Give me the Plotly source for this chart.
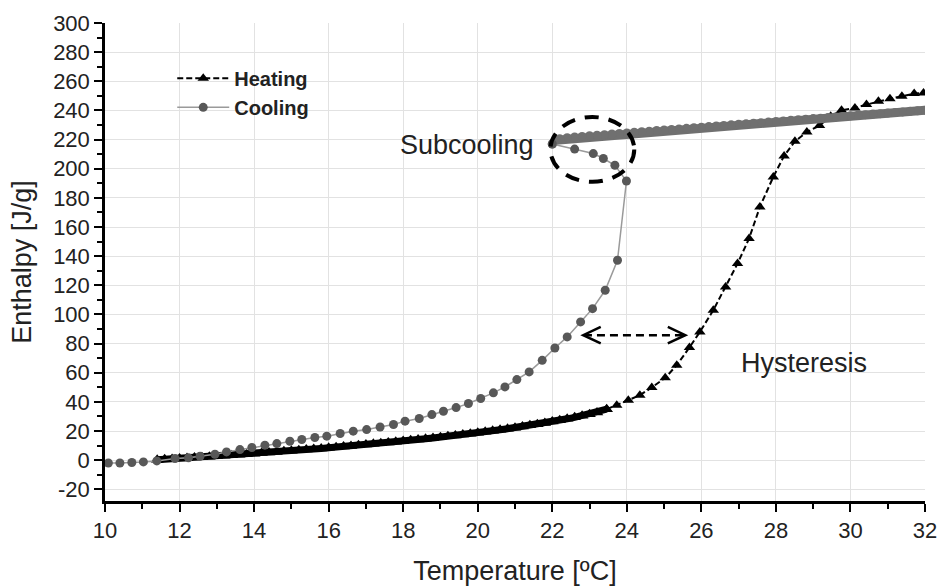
import plotly.graph_objects as go

# ---------------- data ----------------
# Heating: dense low-temperature part (points overlap into a band)
heat_dense_T = [11.4, 11.6, 11.8, 12.0, 12.2, 12.4, 12.6, 12.8, 13.0, 13.2, 13.4, 13.6, 13.8,
                14.0, 14.2, 14.4, 14.6, 14.8, 15.0, 15.2, 15.4, 15.6, 15.8, 16.0, 16.2, 16.4,
                16.6, 16.8, 17.0, 17.2, 17.4, 17.6, 17.8, 18.0, 18.2, 18.4, 18.6, 18.8, 19.0,
                19.2, 19.4, 19.6, 19.8, 20.0, 20.2, 20.4, 20.6, 20.8, 21.0, 21.2, 21.4, 21.6,
                21.8, 22.0, 22.2, 22.4, 22.6, 22.8, 23.0, 23.2, 23.46]
heat_dense_H = [0.3, 0.6, 0.9, 1.2, 1.5, 1.8, 2.1, 2.4, 2.7, 3.0, 3.4, 3.7, 4.1,
                4.5, 4.9, 5.3, 5.7, 6.1, 6.5, 6.9, 7.3, 7.7, 8.1, 8.5, 8.9, 9.4,
                9.8, 10.3, 10.8, 11.2, 11.7, 12.2, 12.7, 13.2, 13.7, 14.2, 14.7, 15.3, 15.8,
                16.4, 17.0, 17.6, 18.2, 18.8, 19.5, 20.2, 20.9, 21.6, 22.3, 23.1, 23.9, 24.7,
                25.6, 26.5, 27.4, 28.4, 29.4, 30.5, 31.6, 32.8, 35.0]
# Heating: melting and liquid part (individual triangles)
heat_T = [23.46, 23.73, 24.04, 24.35, 24.67, 25.03, 25.34, 25.68, 25.96, 26.32, 26.65, 26.97,
          27.28, 27.57, 27.93, 28.22, 28.51, 28.83, 29.17, 29.47, 29.76, 30.12, 30.43,
          30.75, 31.06, 31.38, 31.71, 31.96]
heat_H = [35.0, 37.7, 41.2, 44.6, 49.9, 56.5, 65.2, 77.3, 88.0, 102.9, 118.9, 134.9,
          152.1, 173.8, 194.4, 208.8, 218.8, 225.2, 229.6, 236.0, 240.1, 241.7, 244.0,
          246.3, 248.1, 249.7, 251.6, 252.0]

# Cooling: liquid (subcooled) branch, from 32 degC downwards
cool_liq_T = [32.0, 31.8, 31.6, 31.4, 31.2, 31.0, 30.8, 30.6, 30.4, 30.2, 30.0, 29.8,
              29.6, 29.4, 29.2, 29.0, 28.8, 28.6, 28.4, 28.2, 28.0, 27.8, 27.6, 27.4,
              27.2, 27.0, 26.8, 26.6, 26.4, 26.2, 26.0, 25.8, 25.6, 25.4, 25.2, 25.0,
              24.8, 24.6, 24.4, 24.2, 24.0, 23.8, 23.6, 23.4, 23.2, 23.0, 22.8, 22.6,
              22.4, 22.2, 22.1, 22.0]
cool_liq_H = [240.2, 239.8, 239.4, 239.0, 238.6, 238.2, 237.8, 237.5, 237.1, 236.7, 236.3,
              235.9, 235.5, 235.1, 234.7, 234.4, 234.0, 233.6, 233.2, 232.8, 232.4, 232.0,
              231.6, 231.2, 230.8, 230.5, 230.1, 229.7, 229.3, 228.9, 228.5, 228.1, 227.7,
              227.3, 227.0, 226.6, 226.2, 225.8, 225.4, 225.0, 224.6, 224.2, 223.8, 223.4,
              223.0, 222.6, 222.2, 221.8, 221.3, 220.5, 219.5, 217.0]

# Cooling: after recalescence, down to 10 degC
cool_T = [22.0, 22.6, 23.1, 23.37, 23.68, 23.99, 23.75, 23.42, 23.08, 22.76, 22.4, 22.07, 21.73,
          21.38, 21.05, 20.73, 20.42, 20.08, 19.75, 19.42, 19.08, 18.77, 18.43, 18.05,
          17.74, 17.38, 17.02, 16.66, 16.31, 15.95, 15.63, 15.28, 14.96, 14.61, 14.29,
          13.94, 13.62, 13.26, 12.95, 12.55, 12.24, 11.88, 11.39, 11.03, 10.72, 10.40,
          10.09]
cool_H = [217.0, 213.5, 210.4, 207.0, 202.4, 191.6, 137.2, 116.6, 104.0, 94.9, 84.6, 77.0, 68.5,
          60.6, 55.3, 50.3, 46.2, 42.3, 38.9, 36.1, 33.6, 31.3, 28.6, 26.8,
          24.5, 22.8, 21.0, 19.9, 18.3, 16.5, 15.6, 14.2, 13.0, 11.4, 10.3,
          8.7, 7.3, 5.7, 4.1, 2.7, 1.6, 1.2, -0.5, -1.2, -1.6, -1.9,
          -1.9]

x_ticks = [10, 12, 14, 16, 18, 20, 22, 24, 26, 28, 30, 32]
y_ticks = [-20, 0, 20, 40, 60, 80, 100, 120, 140, 160, 180, 200, 220, 240, 260, 280, 300]

FONT = "Liberation Sans, Arial, sans-serif"

fig = go.Figure()

fig.add_trace(go.Scatter(
    x=heat_T, y=heat_H, name="Heating", mode="lines+markers", legendgroup="heat",
    line=dict(color="black", width=2, dash="6px,3px"),
    marker=dict(symbol="triangle-up", size=10, color="black"),
))
fig.add_trace(go.Scatter(
    x=heat_dense_T, y=heat_dense_H, name="Heating", mode="lines+markers",
    legendgroup="heat", showlegend=False,
    line=dict(color="black", width=7),
    marker=dict(symbol="triangle-up", size=11, color="black"),
))
fig.add_trace(go.Scatter(
    x=cool_liq_T, y=cool_liq_H, name="Cooling", mode="lines+markers",
    legendgroup="cool", showlegend=False,
    line=dict(color="#707070", width=9),
    marker=dict(symbol="circle", size=9, color="#707070"),
))
fig.add_trace(go.Scatter(
    x=cool_T, y=cool_H, name="Cooling", mode="lines+markers",
    legendgroup="cool",
    line=dict(color="#9a9a9a", width=1.5),
    marker=dict(symbol="circle", size=9, color="#585858"),
))

# dashed ellipse marking subcooling
fig.add_shape(type="circle", xref="x", yref="y", x0=21.95, x1=24.2, y0=191.0, y1=235.5,
              line=dict(color="black", width=4, dash="14px,10px"))
# dashed hysteresis arrow
fig.add_shape(type="line", xref="x", yref="y", x0=22.85, x1=25.54, y0=85.8, y1=85.8,
              line=dict(color="black", width=2.5, dash="8px,5px"))
fig.add_shape(type="path", xref="x", yref="y",
              path="M 23.3,91.5 L 22.83,85.8 L 23.3,80.1",
              line=dict(color="black", width=2.5))
fig.add_shape(type="path", xref="x", yref="y",
              path="M 25.1,91.5 L 25.57,85.8 L 25.1,80.1",
              line=dict(color="black", width=2.5))

fig.add_annotation(x=19.7, y=216.5, xref="x", yref="y", text="Subcooling",
                   showarrow=False, font=dict(family=FONT, size=27, color="#222"))
fig.add_annotation(x=28.75, y=66.5, xref="x", yref="y", text="Hysteresis",
                   showarrow=False, font=dict(family=FONT, size=27, color="#222"))

fig.update_layout(
    width=939, height=586,
    margin=dict(l=105, r=14, t=23, b=85),
    paper_bgcolor="white", plot_bgcolor="white",
    font=dict(family=FONT, size=22, color="#222"),
    showlegend=True,
    legend=dict(x=0.082, y=0.925, xanchor="left", yanchor="top",
                bgcolor="rgba(0,0,0,0)", borderwidth=0, itemwidth=52,
                font=dict(family=FONT, size=20, color="#222", weight="bold"),
                tracegroupgap=0),
)
fig.update_xaxes(
    range=[10, 32], tickvals=x_ticks, ticktext=[str(v) for v in x_ticks],
    showline=True, linecolor="black", linewidth=2.5, mirror=False,
    ticks="outside", ticklen=8, tickwidth=2, tickcolor="black",
    minor=dict(ticks="outside", ticklen=5, tickwidth=2, tickcolor="black", dtick=1,
               showgrid=False),
    showgrid=True, gridcolor="#e2e2e2", gridwidth=1, zeroline=False,
    automargin=False,
    title=dict(text="Temperature [ºC]", font=dict(family=FONT, size=27, color="#222"),
               standoff=26),
    tickfont=dict(family=FONT, size=22, color="#222"),
)
fig.update_yaxes(
    range=[-28, 300], tickvals=y_ticks, ticktext=[str(v) for v in y_ticks],
    showline=True, linecolor="black", linewidth=2.5, mirror=False,
    ticks="outside", ticklen=8, tickwidth=2, tickcolor="black",
    minor=dict(ticks="outside", ticklen=5, tickwidth=2, tickcolor="black", dtick=10,
               showgrid=False),
    showgrid=True, gridcolor="#e2e2e2", gridwidth=1, zeroline=False,
    automargin=False,
    title=dict(text="Enthalpy [J/g]", font=dict(family=FONT, size=27, color="#222"),
               standoff=14),
    tickfont=dict(family=FONT, size=22, color="#222"),
)

fig.write_html("out.html")
